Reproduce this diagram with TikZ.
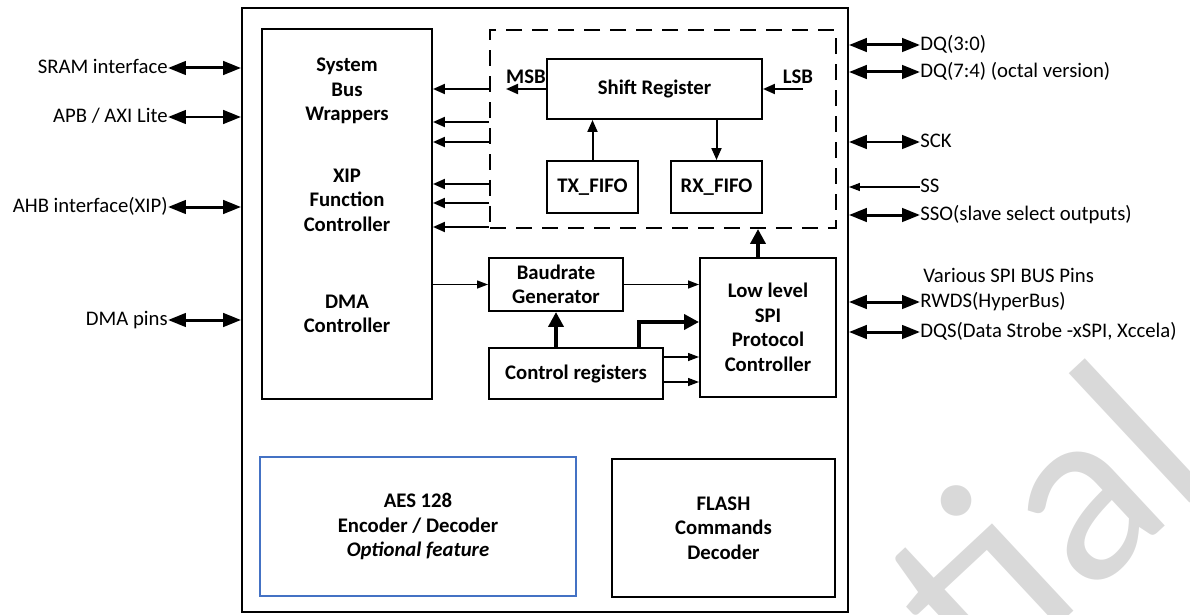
\documentclass[tikz,border=0pt]{standalone}
\usepackage{fontspec}
\setmainfont{Carlito}
\usetikzlibrary{arrows.meta,positioning}
\definecolor{aesblue}{RGB}{68,114,196}

\begin{document}
\begin{tikzpicture}[x=0.02cm, y=-0.02cm,
    font=\fontsize{11.8}{13.95}\selectfont,
    blk/.style={draw, line width=0.04cm, align=center, inner sep=0, font=\fontsize{11.8}{13.95}\selectfont\bfseries},
    txt/.style={align=center, inner sep=0, font=\fontsize{11.8}{13.95}\selectfont\bfseries},
    pin/.style={inner sep=0, text height=0.64em, text depth=0pt},
    wm/.style={inner sep=0, text=black!15, font=\fontsize{145}{170}\selectfont},
    bus/.style={line width=0.06cm, {Triangle[length=0.36cm,width=0.27cm]}-{Triangle[length=0.36cm,width=0.27cm]}},
    wire/.style={line width=0.04cm, -{Triangle[length=0.24cm,width=0.2cm]}},
    thinwire/.style={line width=0.026cm, -{Triangle[length=0.22cm,width=0.16cm]}},
    fatwire/.style={line width=0.08cm, -{Triangle[length=0.3cm,width=0.3cm]}}]
    \useasboundingbox (0,0) rectangle (1190,615);

    % watermark
    \begin{scope}
        \clip (0,0) rectangle (1190,615);
        \node[wm, rotate=43, anchor=base east] (wmark) at (1220,475) {Confidential};
    \end{scope}

    \node[draw, line width=0.04cm, minimum width=12.12cm, minimum height=12.08cm] (core) at (545,310) {};
    \node[draw, line width=0.04cm, minimum width=3.4cm, minimum height=7.4cm] (sys) at (347,214) {};
    \node[txt] (sbw) at (347,91) {System\\Bus\\Wrappers};
    \node[txt] (xip) at (347,200) {XIP\\Function\\Controller};
    \node[txt] (dma) at (347,314) {DMA\\Controller};

    \node[draw, line width=0.04cm, dash pattern=on 0.32cm off 0.2cm, minimum width=6.92cm, minimum height=3.96cm] (dash) at (663,129) {};
    \node[blk, minimum width=4.3cm, minimum height=1.2cm] (shift) at (654.5,89) {Shift Register};
    \node[blk, minimum width=1.82cm, minimum height=1.04cm] (tx) at (592.5,187) {TX\_FIFO};
    \node[blk, minimum width=1.82cm, minimum height=1.04cm] (rx) at (716.5,187) {RX\_FIFO};
    \node[txt] (msb) at (526,77) {MSB};
    \node[txt] (lsb) at (798,77) {LSB};
    \coordinate (msbend) at (506,89);
    \coordinate (lsbstart) at (803,89);

    \node[blk, minimum width=2.68cm, minimum height=1.06cm] (baud) at (556,284.5) {Baudrate\\Generator};
    \node[blk, minimum width=2.72cm, minimum height=2.78cm] (spi) at (768,327.5) {Low level\\SPI\\Protocol\\Controller};
    \node[blk, minimum width=3.48cm, minimum height=1.02cm] (ctrl) at (576,373.5) {Control registers};

    \node[blk, draw=aesblue, line width=0.03cm, minimum width=6.32cm, minimum height=2.78cm] (aes) at (418,526.5) {AES 128\\Encoder / Decoder\\\textit{Optional feature}};
    \node[blk, minimum width=4.46cm, minimum height=2.76cm] (flash) at (723.5,528) {FLASH\\Commands\\Decoder};

    % pins left
    \foreach \name/\y/\txt in {sram/68/SRAM interface, apb/117/{APB / AXI Lite}, ahb/207/AHB interface(XIP), dmap/320/DMA pins} {
        \node[pin, anchor=east] (\name) at (168,\y) {\txt};
        \draw[bus] (\name.east) -- (\name.east -| core.west);
    }
    % pins right
    \foreach \name/\y/\txt in {dqa/45/DQ(3:0), dqb/72/DQ(7:4) (octal version), sck/142/SCK, sso/215/SSO(slave select outputs), rwds/302/RWDS(HyperBus), dqs/332/{DQS(Data Strobe -xSPI, Xccela)}} {
        \node[pin, anchor=west] (\name) at (920,\y) {\txt};
        \draw[bus] (\name.west) -- (\name.west -| core.east);
    }
    \node[pin, anchor=west] (ss) at (920,187) {SS};
    \draw[thinwire] (ss.west) -- (ss.west -| core.east);
    \node[pin, anchor=west] (various) at (923,277) {Various SPI BUS Pins};

    % inside
    \foreach \y in {89,122,142,184,203,227}
        \draw[wire] (dash.west |- 0,\y) -- (sys.east |- 0,\y);
    \draw[wire] (shift.west) -- (msbend);
    \draw[wire] (lsbstart) -- (shift.east);
    \draw[wire] (tx.north) -- (tx.north |- shift.south);
    \draw[wire] (rx.north |- shift.south) -- (rx.north);

    \draw[thinwire] (sys.east |- baud.west) -- (baud.west);
    \draw[thinwire] (baud.east) -- (baud.east -| spi.west);
    \draw[fatwire] (ctrl.north -| baud.south) -- (baud.south);
    \draw[fatwire] ([xshift=-0.5cm]ctrl.north east) |- (spi.west |- 0,322);
    \foreach \y in {357,382}
        \draw[thinwire] (ctrl.east |- 0,\y) -- (spi.west |- 0,\y);
    \draw[fatwire] ([xshift=-0.2cm]spi.north) -- ([xshift=-0.2cm]spi.north |- dash.south);
\end{tikzpicture}
\end{document}
